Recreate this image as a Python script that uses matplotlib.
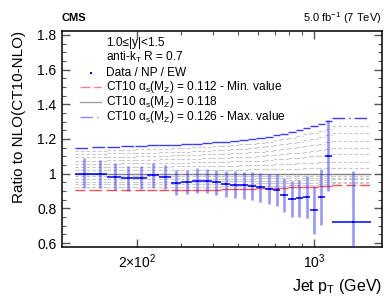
import matplotlib
matplotlib.use('Agg')
import matplotlib.pyplot as plt
import matplotlib.ticker as mticker
import numpy as np

plt.rcParams['font.family'] = ['Liberation Sans', 'DejaVu Sans']
plt.rcParams['mathtext.fontset'] = 'custom'
plt.rcParams['mathtext.rm'] = 'Liberation Sans'
plt.rcParams['mathtext.it'] = 'Liberation Sans'

# jet pT bin edges (GeV)
edges = [114, 133, 153, 174, 196, 220, 245, 272, 300, 330, 362, 395, 430, 468,
         507, 548, 592, 638, 686, 737, 790, 846, 905, 967, 1032, 1101, 1172, 1684]

# data / NP / EW ratio and total uncertainty band (lower, upper)
ratio = [0.998, 0.996, 0.983, 0.973, 0.977, 0.990, 0.979, 0.948, 0.954, 0.960,
         0.958, 0.950, 0.941, 0.937, 0.933, 0.931, 0.922, 0.914, 0.908, 0.879,
         0.856, 0.862, 0.864, 0.791, 0.864, 1.104, 0.723]
upper = [1.089, 1.081, 1.062, 1.043, 1.046, 1.062, 1.050, 1.020, 1.023, 1.031,
         1.029, 1.021, 1.014, 1.014, 1.012, 1.008, 1.002, 0.998, 0.998, 0.975,
         0.956, 0.964, 0.987, 0.929, 1.025, 1.310, 1.016]
lower = [0.916, 0.916, 0.908, 0.898, 0.910, 0.920, 0.910, 0.877, 0.885, 0.890,
         0.887, 0.877, 0.866, 0.860, 0.852, 0.847, 0.839, 0.825, 0.816, 0.781,
         0.752, 0.752, 0.743, 0.650, 0.706, 0.900, 0.420]

# CT10 predictions with alpha_s(MZ) varied, ratio to alpha_s = 0.118
as_112 = [0.907]*6 + [0.909]*6 + [0.912]*4 + [0.918]*4 + [0.922]*4 + [0.928]*2 + [0.933]
as_113 = [0.922]*6 + [0.924]*6 + [0.927]*4 + [0.932]*4 + [0.935]*4 + [0.940]*2 + [0.944]
as_114 = [0.938]*6 + [0.939]*6 + [0.941]*4 + [0.945]*4 + [0.948]*4 + [0.952]*2 + [0.955]
as_115 = [0.954]*6 + [0.955]*6 + [0.956]*4 + [0.959]*4 + [0.961]*4 + [0.964]*2 + [0.967]
as_116 = [0.969]*6 + [0.970]*6 + [0.971]*4 + [0.973]*4 + [0.974]*4 + [0.976]*2 + [0.978]
as_117 = [0.985]*6 + [0.985]*6 + [0.985]*4 + [0.986]*4 + [0.987]*4 + [0.988]*2 + [0.989]
as_118 = [1.0]*27
as_119 = [1.019, 1.019, 1.020, 1.020, 1.020, 1.020, 1.021, 1.021, 1.021, 1.022, 1.022, 1.023, 1.023, 1.024,
          1.024, 1.025, 1.025, 1.026, 1.027, 1.028, 1.029, 1.030, 1.031, 1.032, 1.033, 1.034, 1.035]
as_120 = [1.037, 1.038, 1.039, 1.039, 1.040, 1.041, 1.041, 1.042, 1.043, 1.043, 1.044, 1.045, 1.046, 1.047,
          1.048, 1.049, 1.050, 1.052, 1.054, 1.056, 1.058, 1.060, 1.062, 1.064, 1.066, 1.068, 1.070]
as_121 = [1.056, 1.057, 1.058, 1.059, 1.060, 1.061, 1.062, 1.063, 1.064, 1.065, 1.066, 1.068, 1.069, 1.071,
          1.072, 1.074, 1.076, 1.079, 1.082, 1.085, 1.088, 1.092, 1.096, 1.100, 1.104, 1.108, 1.112]
as_122 = [1.075, 1.076, 1.078, 1.079, 1.080, 1.081, 1.083, 1.084, 1.085, 1.087, 1.088, 1.090, 1.092, 1.094,
          1.096, 1.098, 1.101, 1.105, 1.109, 1.113, 1.117, 1.122, 1.127, 1.132, 1.138, 1.144, 1.150]
as_123 = [1.094, 1.095, 1.097, 1.099, 1.100, 1.102, 1.104, 1.105, 1.107, 1.109, 1.111, 1.113, 1.115, 1.118,
          1.121, 1.124, 1.128, 1.132, 1.137, 1.142, 1.147, 1.153, 1.160, 1.167, 1.174, 1.182, 1.190]
as_124 = [1.112, 1.114, 1.117, 1.118, 1.120, 1.122, 1.124, 1.126, 1.128, 1.130, 1.133, 1.135, 1.138, 1.141,
          1.145, 1.148, 1.153, 1.159, 1.165, 1.171, 1.178, 1.185, 1.193, 1.201, 1.211, 1.222, 1.233]
as_125 = [1.131, 1.133, 1.136, 1.138, 1.140, 1.142, 1.145, 1.147, 1.149, 1.152, 1.155, 1.158, 1.161, 1.165,
          1.169, 1.173, 1.179, 1.185, 1.192, 1.199, 1.207, 1.216, 1.226, 1.236, 1.247, 1.260, 1.274]
as_126 = [1.150, 1.152, 1.156, 1.158, 1.161, 1.163, 1.166, 1.168, 1.171, 1.174, 1.177, 1.181, 1.185, 1.189,
          1.194, 1.199, 1.206, 1.214, 1.222, 1.230, 1.240, 1.250, 1.262, 1.274, 1.288, 1.305, 1.322]

W, H = 390, 302
fig = plt.figure(figsize=(W / 100, H / 100), dpi=100)
ax = fig.add_axes([62 / W, 1 - 247 / H, 320 / W, 216 / H])

lo_e = np.array(edges[:-1])
hi_e = np.array(edges[1:])
centers = (lo_e + hi_e) / 2

# intermediate alpha_s variations
for vals in [as_113, as_114, as_115, as_116, as_117, as_119, as_120, as_121, as_122, as_123, as_124, as_125]:
    ax.hlines(vals, lo_e, hi_e, colors='#c8c8c8', linestyles=(0, (3, 2)), lw=0.8, zorder=1)

ax.hlines(as_118, lo_e, hi_e, colors='#808080', lw=1.0, zorder=2)
ax.hlines(as_112, lo_e, hi_e, colors='#ff5050', linestyles=(0, (7, 3)), lw=1.0, zorder=2)
ax.hlines(as_126, lo_e, hi_e, colors='#3c3cff', linestyles=(0, (9, 3, 1, 3)), lw=1.0, zorder=2)

ratio = np.array(ratio)
yerr = [ratio - np.array(lower), np.array(upper) - ratio]
ax.errorbar(centers, ratio, yerr=yerr, fmt='none', ecolor='#3030ff', alpha=0.5,
            elinewidth=1.9, capsize=0, zorder=3)
ax.errorbar(centers, ratio, xerr=[centers - lo_e, hi_e - centers], fmt='s', ms=2.0, mew=0,
            color='#0000ff', ecolor='#0000ff', elinewidth=1.1, capsize=0, zorder=4)

ax.set_xscale('log')
ax.set_xlim(101.5, 1853)
ax.set_ylim(0.578, 1.822)

ax.xaxis.set_major_locator(mticker.FixedLocator([200, 1000]))
ax.set_xticklabels(['2×10$^{2}$', '10$^{3}$'])
ax.xaxis.set_minor_locator(mticker.LogLocator(base=10, subs=np.arange(1, 10)))
ax.xaxis.set_minor_formatter(mticker.NullFormatter())
ax.yaxis.set_major_locator(mticker.MultipleLocator(0.2))
ax.yaxis.set_minor_locator(mticker.MultipleLocator(0.05))
ax.yaxis.set_major_formatter(mticker.FuncFormatter(lambda v, p: '1' if abs(v - 1) < 1e-6 else '%.1f' % v))

ax.tick_params(which='both', direction='in', top=True, right=True, labelsize=10, color='#555555')
ax.tick_params(which='major', length=6, width=1.0, pad=4)
ax.tick_params(which='minor', length=3, width=0.8)
for s in ax.spines.values():
    s.set_linewidth(1.1)

ax.set_xlabel('Jet p$_{\\mathrm{T}}$ (GeV)', fontsize=11.5, ha='right', x=1.0, labelpad=4)
ax.set_ylabel('Ratio to NLO(CT10-NLO)', fontsize=11, ha='right', y=1.0, labelpad=8)

fig.text(62 / W, 1 - 18 / H, 'CMS', fontsize=8, fontweight='bold', ha='left', va='center')
fig.text(382 / W, 1 - 18 / H, '5.0 fb$^{-1}$ (7 TeV)', fontsize=8, ha='right', va='center')

# legend block
def fx(px):
    return px / W

def fy(py):
    return 1 - py / H

fs = 8.6
fig.text(fx(106), fy(43), '1.0≤|y|<1.5', fontsize=fs, va='center')
fig.text(fx(106), fy(57.7), 'anti-k$_{\\mathrm{T}}$ R = 0.7', fontsize=fs, va='center')
fig.text(fx(106), fy(72.5), 'Data / NP / EW', fontsize=fs, va='center')
fig.text(fx(106), fy(87.2), 'CT10 $\\alpha_{\\mathrm{s}}$(M$_{\\mathrm{Z}}$) = 0.112 - Min. value', fontsize=fs, va='center')
fig.text(fx(106), fy(102), 'CT10 $\\alpha_{\\mathrm{s}}$(M$_{\\mathrm{Z}}$) = 0.118', fontsize=fs, va='center')
fig.text(fx(106), fy(116.7), 'CT10 $\\alpha_{\\mathrm{s}}$(M$_{\\mathrm{Z}}$) = 0.126 - Max. value', fontsize=fs, va='center')

fig.add_artist(plt.Line2D([fx(90.5)], [fy(72.5)], marker='s', ms=1.6, mew=0, color='#0000ff', lw=0))
fig.add_artist(plt.Line2D([fx(80), fx(101)], [fy(87.2)] * 2, color='#ff8080', lw=1.0, ls=(0, (7, 3))))
fig.add_artist(plt.Line2D([fx(80), fx(101)], [fy(102)] * 2, color='#a0a0a0', lw=1.0))
fig.add_artist(plt.Line2D([fx(80), fx(101)], [fy(116.7)] * 2, color='#8c8cff', lw=1.0, ls=(0, (9, 3, 1, 3))))

fig.savefig('out.png', dpi=100)
